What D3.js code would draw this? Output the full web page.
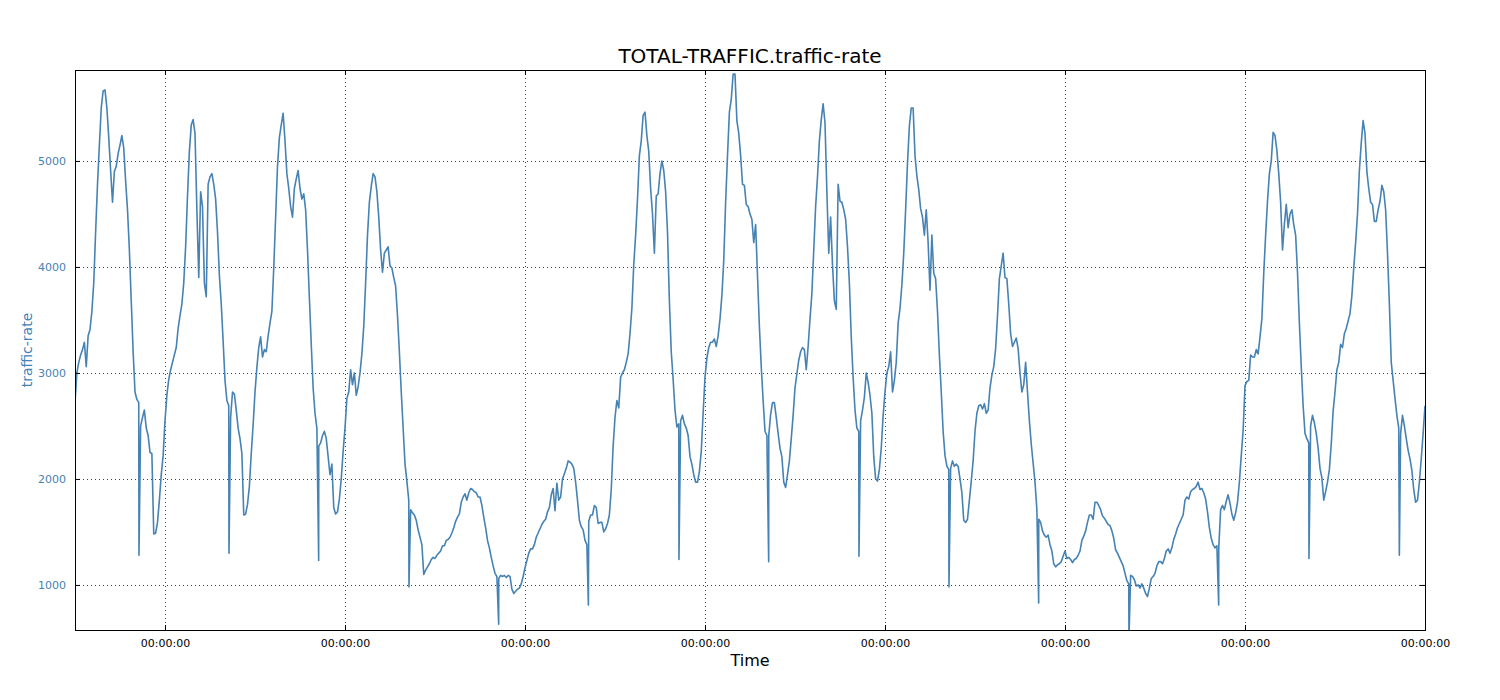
<!DOCTYPE html>
<html>
<head>
<meta charset="utf-8">
<script src="https://cdn.jsdelivr.net/npm/d3@7/dist/d3.min.js"></script>
<style>
  html, body { margin: 0; padding: 0; background: #fff; }
  svg { display: block; font-family: "DejaVu Sans", sans-serif; }
</style>
</head>
<body>
<svg id="chart" width="1500" height="700"></svg>
<script>
// ---- data ----
const chartTitle = "TOTAL-TRAFFIC.traffic-rate";
const xLabel = "Time";
const yLabel = "traffic-rate";
const startTime = new Date(2016, 0, 1, 12, 0, 0);   // series start
const endTime = new Date(2016, 0, 9, 0, 0, 0);      // series end
const stepMinutes = 30;                              // sampling step of traffic[]
const yTicks = [1000, 2000, 3000, 4000, 5000];
const yDomain = [575, 5858];

// traffic-rate samples at :00 and :30 (every 30 minutes from start)
const traffic = [
  2720,3100,3220,3060,3410,3850,4780,5500,5670,5220,
  4610,4950,5150,5120,4540,3680,2820,2720,2580,2480,
  2250,1480,1590,2040,2550,2940,3100,3240,3540,3850,
  4670,5340,5260,3900,4570,3720,4850,4780,4330,3650,
  2930,2690,2820,2650,2380,1660,1760,2240,2820,3240,
  3150,3200,3470,3990,4950,5340,5190,4740,4470,4830,
  4740,4690,4160,3270,2620,2310,2410,2380,2040,1730,
  1690,2000,2480,2820,2890,2790,3000,3440,4300,4760,
  4850,4470,3950,4160,4010,3900,3540,2820,2140,1800,
  1680,1610,1450,1100,1170,1240,1250,1300,1370,1420,
  1450,1540,1640,1780,1860,1870,1900,1870,1830,1640,
  1420,1260,1110,1060,1080,1070,1080,920,960,1010,
  1160,1300,1340,1450,1530,1600,1690,1850,1700,1800,
  2000,2100,2160,2100,1800,1550,1420,1600,1660,1730,
  1590,1500,1580,1900,2580,2670,3000,3100,3370,4020,
  4640,5190,5460,5090,4500,4670,4880,4910,4330,3200,
  2650,2520,2600,2480,2210,2040,1970,2260,2960,3240,
  3290,3250,3510,4060,5050,5580,5820,5260,4780,4590,
  4500,4230,3920,3060,2450,2410,2720,2580,2290,1970,
  2040,2380,2860,3120,3240,3030,3510,4160,4850,5390,
  5360,4130,4020,3600,4620,4540,4190,3340,2650,2450,
  2650,3000,2790,2210,1980,2290,2820,3060,2820,3100,
  3610,4130,4980,5500,5050,4730,4470,4540,3780,3940,
  3580,2820,2220,2090,2170,2140,2000,1610,1620,1980,
  2450,2690,2660,2620,2860,3060,3540,4010,3900,3650,
  3250,3330,3000,2890,2820,2330,1970,1620,1510,1450,
  1380,1200,1190,1220,1320,1260,1210,1250,1320,1460,
  1590,1660,1780,1750,1650,1600,1560,1440,1300,1220,
  1110,1010,1080,990,970,970,890,1060,1110,1220,
  1200,1320,1300,1430,1540,1620,1800,1810,1900,1930,
  1900,1870,1690,1440,1350,1350,1750,1790,1770,1610,
  1780,2220,2880,2930,3150,3220,3340,3940,4620,5000,
  5240,4880,4160,4590,4500,4400,3950,3060,2430,2340,
  2600,2430,2100,1800,1970,2330,2820,3100,3240,3420,
  3560,3990,4500,5170,5260,4740,4590,4430,4620,4710,
  4130,3100,2760,2480,2600,2380,2190,1900,1800,2190,
  2690
];

// traffic-rate samples at :15 and :45 (15 minutes after each traffic[] sample)
const trafficMid = [
  3000,3170,3290,3350,3580,4330,5150,5660,5500,4910,
  4900,5070,5240,4810,4160,3200,2750,2500,2650,2410,
  2240,1490,1800,2220,2790,3030,3170,3420,3650,4190,
  5090,5390,4540,4710,3850,4780,4880,4640,3920,3300,
  2740,2580,2800,2480,2240,1670,1930,2510,3050,3340,
  3220,3350,3580,4470,5220,5450,4880,4570,4740,4910,
  4640,4540,3710,2860,2480,2340,2450,2210,2140,1670,
  1810,2260,2760,3030,3000,2870,3180,3850,4610,4880,
  4710,4160,4130,4190,3990,3820,3200,2480,1980,1710,
  1660,1520,1380,1140,1200,1260,1280,1320,1370,1430,
  1490,1600,1670,1830,1800,1910,1880,1830,1750,1540,
  1350,1180,1080,1090,1090,1090,960,940,970,1080,
  1230,1340,1380,1490,1570,1620,1730,1910,1960,1830,
  2050,2170,2140,1970,1610,1520,1380,1660,1750,1580,
  1590,1530,1660,2310,2740,2960,3030,3180,3610,4300,
  5050,5430,5240,4740,4130,4690,5000,4710,3680,2940,
  2490,2550,2520,2410,2140,1970,2070,2620,3140,3290,
  3320,3350,3730,4610,5460,5820,5380,5050,4770,4570,
  4450,4400,3440,2740,2410,2610,2720,2430,2210,1920,
  2170,2600,2990,3200,3220,3250,3750,4570,5190,5540,
  4710,4470,3680,4780,4610,4450,3850,2960,2480,2550,
  2770,2910,2620,2000,2090,2600,3000,3200,2930,3470,
  3830,4540,5330,5500,4860,4550,4300,4230,4300,3890,
  3170,2450,2120,2100,2120,2120,1870,1590,1800,2170,
  2620,2700,2710,2650,2980,3230,3890,4130,3890,3370,
  3290,3230,2820,3100,2550,2150,1710,1590,1470,1470,
  1320,1170,1200,1270,1250,1240,1240,1280,1420,1510,
  1660,1620,1780,1710,1630,1570,1510,1330,1260,1180,
  1040,1090,1050,1000,1010,920,970,1080,1180,1220,
  1250,1340,1350,1480,1580,1660,1830,1880,1910,1970,
  1910,1810,1540,1380,1370,1710,1710,1850,1670,1680,
  1970,2460,2920,3170,3150,3180,3510,4300,4880,5270,
  5100,4610,4400,4370,4540,4300,3470,2690,2380,2500,
  2530,2290,2010,1880,2090,2640,3030,3270,3370,3490,
  3730,4230,4910,5380,4900,4610,4430,4540,4770,4540,
  3650,2930,2600,2430,2500,2270,2080,1780,1970,2430
];

// short dropouts: hours after start, value
const dropoutHours  = [8.53, 20.53, 32.49, 44.53, 56.49, 68.45, 80.53, 92.49, 104.53, 116.53, 128.49, 140.53, 152.49, 164.53, 176.58];
const dropoutValues = [1280, 1300, 1230, 980, 630, 810, 1240, 1220, 1270, 980, 830, 500, 810, 1250, 1280];

// ---- layout ----
const svg = d3.select("#chart");
const margin = {left: 75, right: 75, top: 70, bottom: 70};
const W = 1500, H = 700;
const iw = W - margin.left - margin.right;
const ih = H - margin.top - margin.bottom;
const color = "#4682b4";

const MIN = 60 * 1000, HOUR = 60 * MIN;
const points = [];
traffic.forEach((v, i) => points.push({t: new Date(+startTime + i * stepMinutes * MIN), v}));
trafficMid.forEach((v, i) => points.push({t: new Date(+startTime + (i * stepMinutes + stepMinutes / 2) * MIN), v}));
dropoutHours.forEach((h, i) => points.push({t: new Date(+startTime + h * HOUR), v: dropoutValues[i]}));
points.sort((a, b) => a.t - b.t);

const x = d3.scaleTime().domain([startTime, endTime]).range([0, iw]);
const y = d3.scaleLinear().domain(yDomain).range([ih, 0]);

const g = svg.append("g").attr("transform", `translate(${margin.left},${margin.top})`);

svg.append("defs").append("clipPath").attr("id", "clip")
  .append("rect").attr("x", 0).attr("y", 0).attr("width", iw).attr("height", ih);

const xTicks = x.ticks(d3.timeDay.every(1));
const fmt = d3.timeFormat("%H:%M:%S");

// grid
const grid = g.append("g").attr("class", "grid");
grid.selectAll("line.gx").data(xTicks).join("line")
  .attr("x1", d => Math.round(x(d)) + 0.5).attr("x2", d => Math.round(x(d)) + 0.5)
  .attr("y1", 0).attr("y2", ih)
  .attr("stroke", "#000").attr("stroke-width", 1).attr("stroke-dasharray", "1,3").attr("opacity", 0.75);
grid.selectAll("line.gy").data(yTicks).join("line")
  .attr("y1", d => Math.round(y(d)) + 0.5).attr("y2", d => Math.round(y(d)) + 0.5)
  .attr("x1", 0).attr("x2", iw)
  .attr("stroke", "#000").attr("stroke-width", 1).attr("stroke-dasharray", "1,3").attr("opacity", 0.75);

// line
const line = d3.line().x(d => x(d.t)).y(d => y(d.v));
g.append("path").datum(points)
  .attr("clip-path", "url(#clip)")
  .attr("fill", "none").attr("stroke", color).attr("stroke-width", 1.6)
  .attr("stroke-linejoin", "round")
  .attr("d", line);

// axes (ticks inward)
const xAxisB = d3.axisBottom(x).tickValues(xTicks).tickFormat(fmt).tickSizeInner(-5).tickSizeOuter(0).tickPadding(9);
const gx = g.append("g").attr("transform", `translate(0,${ih})`).call(xAxisB);
gx.select(".domain").remove();
gx.selectAll("text").attr("font-size", 11).attr("fill", "#000").attr("font-family", "DejaVu Sans");
gx.selectAll("line").attr("stroke", "#000");

const xAxisT = d3.axisTop(x).tickValues(xTicks).tickFormat("").tickSizeInner(-5).tickSizeOuter(0);
const gxt = g.append("g").call(xAxisT);
gxt.select(".domain").remove();

const yAxisL = d3.axisLeft(y).tickValues(yTicks).tickFormat(d3.format("d")).tickSizeInner(-5).tickSizeOuter(0).tickPadding(9);
const gy = g.append("g").call(yAxisL);
gy.select(".domain").remove();
gy.selectAll("text").attr("font-size", 11).attr("fill", color).attr("font-family", "DejaVu Sans");

const yAxisR = d3.axisRight(y).tickValues(yTicks).tickFormat("").tickSizeInner(-5).tickSizeOuter(0);
const gyr = g.append("g").attr("transform", `translate(${iw},0)`).call(yAxisR);
gyr.select(".domain").remove();

// frame
g.append("rect").attr("x", 0.5).attr("y", 0.5).attr("width", iw).attr("height", ih)
  .attr("fill", "none").attr("stroke", "#000").attr("stroke-width", 1);

// title & labels
svg.append("text").attr("x", margin.left + iw / 2).attr("y", 63)
  .attr("text-anchor", "middle").attr("font-size", 20).attr("fill", "#000").text(chartTitle);
svg.append("text").attr("x", margin.left + iw / 2).attr("y", 666)
  .attr("text-anchor", "middle").attr("font-size", 16).attr("fill", "#000").text(xLabel);
svg.append("text").attr("transform", `translate(32,${margin.top + ih / 2}) rotate(-90)`)
  .attr("text-anchor", "middle").attr("font-size", 14).attr("fill", color).text(yLabel);
</script>
</body>
</html>
